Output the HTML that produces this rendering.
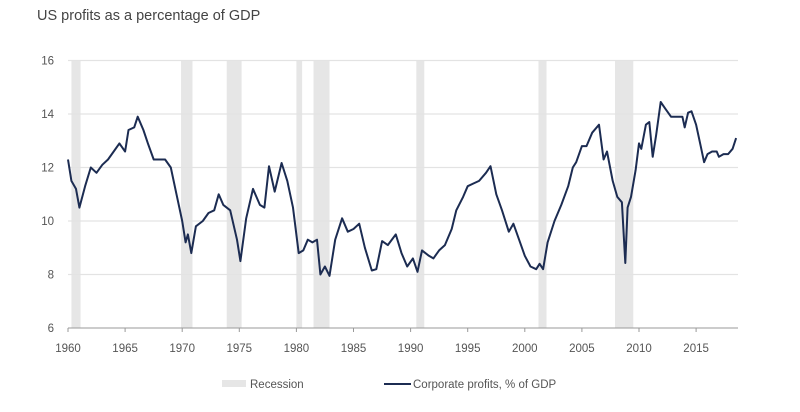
<!DOCTYPE html>
<html><head><meta charset="utf-8"><style>
body{margin:0;background:#fff;font-family:"Liberation Sans",sans-serif}
</style></head><body>
<svg id="chart" width="800" height="407" xmlns="http://www.w3.org/2000/svg">
<text x="37" y="20" font-size="14.5" fill="#444">US profits as a percentage of GDP</text>
<g id="rec"></g><g id="grid"></g><g id="ax"></g><g id="ln"></g>
<g>
<rect x="222" y="380" width="24" height="7" fill="#e6e6e6"/>
<text x="250" y="388" font-size="11.5" fill="#555">Recession</text>
<line x1="384" y1="384" x2="411" y2="384" stroke="#1c2c52" stroke-width="2"/>
<text x="413" y="388" font-size="11.5" fill="#555">Corporate profits, % of GDP</text>
</g>
</svg>
<script>
const years=[1960,1960.3,1960.7,1961,1961.5,1962,1962.5,1963,1963.5,1964,1964.5,1965,1965.3,1965.8,1966.1,1966.6,1967,1967.5,1968,1968.5,1969,1969.5,1970,1970.3,1970.5,1970.8,1971.2,1971.8,1972.3,1972.8,1973.2,1973.6,1974.2,1974.8,1975.1,1975.6,1976.2,1976.8,1977.2,1977.6,1978.1,1978.7,1979.2,1979.7,1980.2,1980.6,1981,1981.4,1981.8,1982.1,1982.5,1982.9,1983.4,1984,1984.5,1985,1985.5,1986,1986.6,1987,1987.5,1988,1988.7,1989.2,1989.7,1990.2,1990.6,1991,1991.6,1992,1992.5,1993,1993.6,1994,1994.6,1995,1995.5,1996,1996.6,1997,1997.5,1998,1998.6,1999,1999.5,2000,2000.5,2001,2001.3,2001.6,2002,2002.6,2003.2,2003.8,2004.2,2004.5,2005,2005.4,2005.9,2006.5,2006.9,2007.2,2007.7,2008.1,2008.5,2008.8,2009,2009.3,2009.7,2010,2010.2,2010.6,2010.9,2011.2,2011.5,2011.9,2012.3,2012.8,2013.3,2013.8,2014,2014.3,2014.6,2015,2015.4,2015.7,2016,2016.4,2016.8,2017,2017.4,2017.8,2018.2,2018.5];
const profits=[12.3,11.5,11.2,10.5,11.3,12.0,11.8,12.1,12.3,12.6,12.9,12.6,13.4,13.5,13.9,13.4,12.9,12.3,12.3,12.3,12.0,11.0,10.0,9.2,9.5,8.8,9.8,10.0,10.3,10.4,11.0,10.6,10.4,9.3,8.5,10.1,11.2,10.6,10.5,12.05,11.1,12.17,11.5,10.5,8.8,8.9,9.3,9.2,9.3,8.0,8.3,7.95,9.3,10.1,9.6,9.7,9.9,9.0,8.15,8.2,9.25,9.1,9.5,8.8,8.3,8.6,8.1,8.9,8.7,8.6,8.9,9.1,9.7,10.4,10.9,11.3,11.4,11.5,11.8,12.05,11.0,10.4,9.6,9.9,9.3,8.7,8.3,8.2,8.4,8.2,9.2,10.0,10.6,11.3,12.0,12.2,12.8,12.8,13.3,13.6,12.3,12.6,11.5,10.9,10.7,8.43,10.5,10.9,11.9,12.9,12.7,13.6,13.7,12.4,13.2,14.45,14.2,13.9,13.9,13.9,13.5,14.05,14.1,13.6,12.8,12.2,12.5,12.6,12.6,12.4,12.5,12.5,12.7,13.1];
const recStart=[1960.3,1969.9,1973.9,1980.0,1981.5,1990.5,2001.2,2007.9];
const recEnd=[1961.1,1970.9,1975.2,1980.5,1982.9,1991.2,2001.9,2009.5];
const yTicks=[6,8,10,12,14,16];
const xTicks=[1960,1965,1970,1975,1980,1985,1990,1995,2000,2005,2010,2015];
const NS="http://www.w3.org/2000/svg";
const X=y=>68+(y-1960)*11.42, Y=v=>328-(v-6)*26.75;
function mk(p,t,a){const e=document.createElementNS(NS,t);for(const k in a)e.setAttribute(k,a[k]);document.getElementById(p).appendChild(e);return e;}
recStart.forEach((s,i)=>{const e=mk('rec','rect',{x:X(s),y:Y(16),width:X(recEnd[i])-X(s),height:Y(6)-Y(16),fill:'#e6e6e6'});

});
yTicks.forEach(v=>{if(v>6){const l=mk('grid','line',{x1:68,x2:738,y1:Y(v),y2:Y(v),stroke:'#e3e3e3','stroke-width':1.3});

}
const t=mk('ax','text',{x:54,y:Y(v)+4,'text-anchor':'end','font-size':11.5,fill:'#555'});t.textContent=v;

});
const axl=mk('ax','line',{x1:68,x2:738,y1:Y(6),y2:Y(6),stroke:'#999','stroke-width':1});


xTicks.forEach(y=>{const tk=mk('ax','line',{x1:X(y),x2:X(y),y1:Y(6),y2:Y(6)+4,stroke:'#999'});


const t=mk('ax','text',{x:X(y),y:352,'text-anchor':'middle','font-size':11.5,fill:'#555'});t.textContent=y;

});
const p=mk('ln','path',{d:years.map((y,i)=>(i?'L':'M')+X(y).toFixed(1)+','+Y(profits[i]).toFixed(1)).join(''),fill:'none',stroke:'#1c2c52','stroke-width':2,'stroke-linejoin':'round'});


</script>
</body></html>
